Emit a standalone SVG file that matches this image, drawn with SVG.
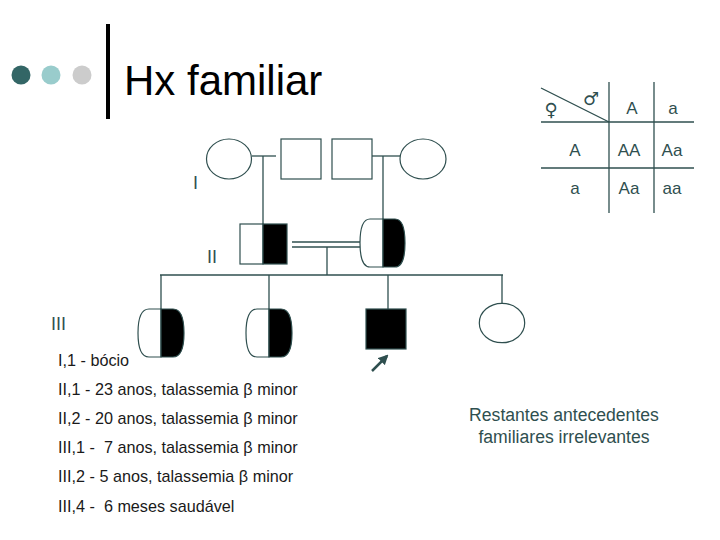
<svg xmlns="http://www.w3.org/2000/svg" width="720" height="540" viewBox="0 0 720 540">
<style>
.ln{stroke:#2f4f4f;stroke-width:1.3;fill:none}
.sh{stroke:#2f4f4f;stroke-width:1.2;fill:#fff}
.blk{fill:#000;stroke:#2f4f4f;stroke-width:1.2}
.t{font-family:"Liberation Sans",Arial,sans-serif}
.sl{fill:#2f4f4f}
.lst{font-size:16.2px;fill:#1a1a1a;white-space:pre}
.pn{font-size:17px;text-anchor:middle}
.rn{font-size:18px}
</style>
<defs>
<marker id="ah" viewBox="0 0 10 10" refX="8" refY="5" markerWidth="4" markerHeight="4" orient="auto"><path d="M0,0 L10,5 L0,10 Z" fill="#2f4f4f"/></marker>
</defs>
<rect width="720" height="540" fill="#fff"/>
<g id="title">
<circle cx="21" cy="75" r="9.5" fill="#336666"/>
<circle cx="51" cy="75" r="9.5" fill="#99cccc"/>
<circle cx="82" cy="75" r="9.5" fill="#cccccc"/>
<rect x="106" y="24" width="4" height="95" fill="#000"/>
<text class="t" x="124" y="95" font-size="42" fill="#000">Hx familiar</text>
</g>
<g id="punnett">
<line class="ln" x1="609" y1="82" x2="609" y2="213"/>
<line class="ln" x1="654" y1="82" x2="654" y2="213"/>
<line class="ln" x1="541" y1="122" x2="694" y2="122"/>
<line class="ln" x1="541" y1="168" x2="694" y2="168"/>
<line class="ln" x1="541" y1="88" x2="609" y2="122"/>
<text x="551" y="116" font-family="DejaVu Sans,sans-serif" font-size="18" text-anchor="middle" class="sl">♀</text>
<text x="591" y="105" font-family="DejaVu Sans,sans-serif" font-size="18" text-anchor="middle" class="sl">♂</text>
<text class="t pn sl" x="632" y="114">A</text>
<text class="t pn sl" x="673" y="114">a</text>
<text class="t pn sl" x="575" y="156">A</text>
<text class="t pn sl" x="629" y="156">AA</text>
<text class="t pn sl" x="672" y="156">Aa</text>
<text class="t pn sl" x="575" y="194">a</text>
<text class="t pn sl" x="629" y="194">Aa</text>
<text class="t pn sl" x="672" y="194">aa</text>
</g>
<g id="connectors">
<line class="ln" x1="252" y1="156" x2="276" y2="156"/>
<line class="ln" x1="263" y1="156" x2="263" y2="224"/>
<line class="ln" x1="372" y1="156" x2="400" y2="156"/>
<line class="ln" x1="383" y1="156" x2="383" y2="219"/>
<line class="ln" x1="292" y1="242" x2="360" y2="242"/>
<line class="ln" x1="292" y1="247" x2="360" y2="247"/>
<line class="ln" x1="327" y1="247" x2="327" y2="275"/>
<line class="ln" x1="160" y1="275" x2="503" y2="275"/>
<line class="ln" x1="161" y1="275" x2="161" y2="309"/>
<line class="ln" x1="269" y1="275" x2="269" y2="309"/>
<line class="ln" x1="388" y1="275" x2="388" y2="309"/>
<line class="ln" x1="502" y1="275" x2="502" y2="303"/>
<line x1="372" y1="371" x2="387" y2="356" stroke="#2f4f4f" stroke-width="2.5" marker-end="url(#ah)"/>
</g>
<g id="I1"><ellipse class="sh" cx="229" cy="159" rx="22.5" ry="20"/></g>
<g id="I2"><rect class="sh" x="281" y="139" width="40" height="40"/></g>
<g id="I3"><rect class="sh" x="332" y="139" width="40" height="40"/></g>
<g id="I4"><ellipse class="sh" cx="423" cy="159" rx="23" ry="20"/></g>
<g id="II1">
<rect class="sh" x="240" y="224" width="23" height="40"/>
<rect class="blk" x="263" y="224" width="24" height="40"/>
</g>
<g id="II2">
<path class="sh" d="M383,219 H370 C362,219 360,230 360,243 C360,256 362,267 370,267 H383 Z"/>
<path class="blk" d="M383,219 H395 C403,219 405,230 405,243 C405,256 403,267 395,267 H383 Z"/>
</g>
<g id="III1">
<path class="sh" d="M161,309 H149 C140,309 138,320 138,333 C138,346 140,357 149,357 H161 Z"/>
<path class="blk" d="M161,309 H173 C182,309 184,320 184,333 C184,346 182,357 173,357 H161 Z"/>
</g>
<g id="III2">
<path class="sh" d="M269,309 H257 C248,309 246,320 246,333 C246,346 248,357 257,357 H269 Z"/>
<path class="blk" d="M269,309 H281 C290,309 292,320 292,333 C292,346 290,357 281,357 H269 Z"/>
</g>
<g id="III3"><rect class="blk" x="366" y="309" width="40" height="40"/></g>
<g id="III4"><ellipse class="sh" cx="502" cy="323" rx="22.7" ry="19.7"/></g>
<g id="gen-labels">
<text class="t rn sl" x="193" y="189">I</text>
<text class="t rn sl" x="207" y="263">II</text>
<text class="t rn sl" x="51" y="330">III</text>
</g>
<g id="notes">
<text class="t lst" x="58" y="366">I,1 - bócio</text>
<text class="t lst" x="58" y="395">II,1 - 23 anos, talassemia β minor</text>
<text class="t lst" x="58" y="424">II,2 - 20 anos, talassemia β minor</text>
<text class="t lst" x="58" y="453" xml:space="preserve">III,1 -  7 anos, talassemia β minor</text>
<text class="t lst" x="58" y="482">III,2 - 5 anos, talassemia β minor</text>
<text class="t lst" x="58" y="512" xml:space="preserve">III,4 -  6 meses saudável</text>
</g>
<g id="remark">
<text class="t sl" x="564" y="421" font-size="17.6" text-anchor="middle">Restantes antecedentes</text>
<text class="t sl" x="564" y="443" font-size="17.6" text-anchor="middle">familiares irrelevantes</text>
</g>
</svg>
